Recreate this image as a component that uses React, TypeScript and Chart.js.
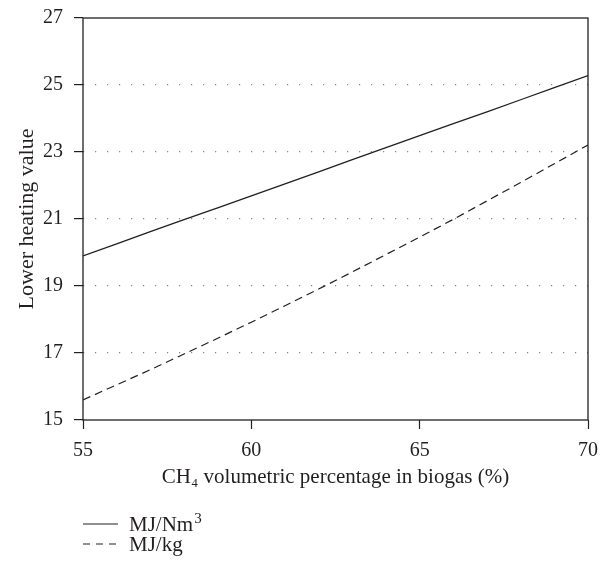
import React, { useEffect, useRef } from "react";
import { Chart, registerables } from "chart.js";

Chart.register(...registerables);

const ch4Percent = [55, 56, 57, 58, 59, 60, 61, 62, 63, 64, 65, 66, 67, 68, 69, 70];
const lhvVolume = [19.9, 20.26, 20.62, 20.98, 21.33, 21.69, 22.05, 22.41, 22.77, 23.13, 23.49, 23.85, 24.2, 24.56, 24.92, 25.28];
const lhvMass = [15.6, 16.05, 16.5, 16.97, 17.44, 17.92, 18.41, 18.91, 19.42, 19.94, 20.46, 20.99, 21.54, 22.09, 22.65, 23.21];
const seriesLabels = ["MJ/Nm³", "MJ/kg"];
const xTitle = "CH₄ volumetric percentage in biogas (%)";
const yTitle = "Lower heating value";
const yMin = 15;
const yMax = 27;
const xMin = 55;
const xMax = 70;

const FONT = "'Liberation Serif', 'Times New Roman', serif";
const INK = "#231f20";

export default function App() {
  const ref = useRef<HTMLCanvasElement | null>(null);
  useEffect(() => {
    if (!ref.current) return;
    const framePlugin = {
      id: "frame",
      afterDraw(chart: any) {
        const { ctx, chartArea } = chart;
        ctx.save();
        ctx.strokeStyle = INK;
        ctx.lineWidth = 1.3;
        ctx.setLineDash([]);
        ctx.strokeRect(chartArea.left, chartArea.top, chartArea.right - chartArea.left, chartArea.bottom - chartArea.top);
        // legend
        chart.data.datasets.forEach((ds: any, i: number) => {
          const y = 524 + i * 20;
          ctx.beginPath();
          ctx.strokeStyle = INK;
          ctx.lineWidth = 1.2;
          ctx.setLineDash(ds.borderDash ? [7, 6] : []);
          ctx.moveTo(83, y);
          ctx.lineTo(118, y);
          ctx.stroke();
          ctx.setLineDash([]);
          ctx.fillStyle = INK;
          ctx.textBaseline = "alphabetic";
          ctx.textAlign = "left";
          const label: string = ds.label;
          const supIdx = label.indexOf("³");
          const base = supIdx >= 0 ? label.slice(0, supIdx) : label;
          ctx.font = `21px ${FONT}`;
          ctx.fillText(base, 129, y + 7);
          if (supIdx >= 0) {
            const w = ctx.measureText(base).width;
            ctx.font = `15px ${FONT}`;
            ctx.fillText("3", 129 + w + 1, y - 1);
          }
        });
        ctx.restore();
      },
    };
    const chart = new Chart(ref.current, {
      type: "line",
      data: {
        datasets: [
          {
            label: seriesLabels[0],
            data: ch4Percent.map((x, i) => ({ x, y: lhvVolume[i] })),
            borderColor: INK,
            borderWidth: 1.3,
            pointRadius: 0,
            tension: 0,
            fill: false,
          },
          {
            label: seriesLabels[1],
            data: ch4Percent.map((x, i) => ({ x, y: lhvMass[i] })),
            borderColor: INK,
            borderWidth: 1.2,
            borderDash: [8, 5],
            pointRadius: 0,
            tension: 0,
            fill: false,
          },
        ],
      },
      options: {
        animation: false,
        responsive: false,
        maintainAspectRatio: false,
        layout: { autoPadding: false, padding: { top: 18, right: 20, left: 0, bottom: 0 } },
        plugins: { legend: { display: false }, tooltip: { enabled: false } },
        scales: {
          x: {
            type: "linear",
            min: xMin,
            max: xMax,
            afterFit: (s: any) => {
              s.height = 141;
              s.paddingLeft = 0;
              s.paddingRight = 0;
              s.paddingTop = 0;
              s.paddingBottom = 0;
            },
            ticks: {
              stepSize: 5,
              color: INK,
              font: { family: FONT, size: 20 },
              padding: 10,
            },
            grid: { drawOnChartArea: false, drawTicks: true, tickLength: 9, tickColor: INK, tickWidth: 1.2 },
            border: { display: false },
            title: {
              display: true,
              text: xTitle,
              color: INK,
              font: { family: FONT, size: 21 },
              padding: { top: 0, bottom: 71 },
            },
          },
          y: {
            min: yMin,
            max: yMax,
            afterFit: (s: any) => {
              s.width = 83;
              s.paddingTop = 0;
              s.paddingBottom = 0;
              s.paddingLeft = 0;
              s.paddingRight = 0;
            },
            ticks: {
              stepSize: 2,
              color: INK,
              font: { family: FONT, size: 20 },
              padding: 11,
            },
            grid: {
              drawOnChartArea: true,
              drawTicks: true,
              tickLength: 9,
              tickColor: INK,
              tickWidth: 1.2,
              lineWidth: 1.2,
              color: (c: any) => (c.tick && (c.tick.value === yMin || c.tick.value === yMax) ? "rgba(0,0,0,0)" : "#888"),
            },
            border: { display: false, dash: [1.2, 10.8], dashOffset: -12 },
            title: {
              display: true,
              text: yTitle,
              color: INK,
              font: { family: FONT, size: 22 },
              padding: { top: 14, bottom: 0 },
            },
          },
        },
      },
      plugins: [framePlugin],
    } as any);
    return () => chart.destroy();
  }, []);
  return (
    <div style={{ position: "absolute", left: 0, top: 0, width: 608, height: 561, background: "#fff" }}>
      <canvas ref={ref} width={608} height={561} style={{ width: 608, height: 561, display: "block" }} />
    </div>
  );
}
